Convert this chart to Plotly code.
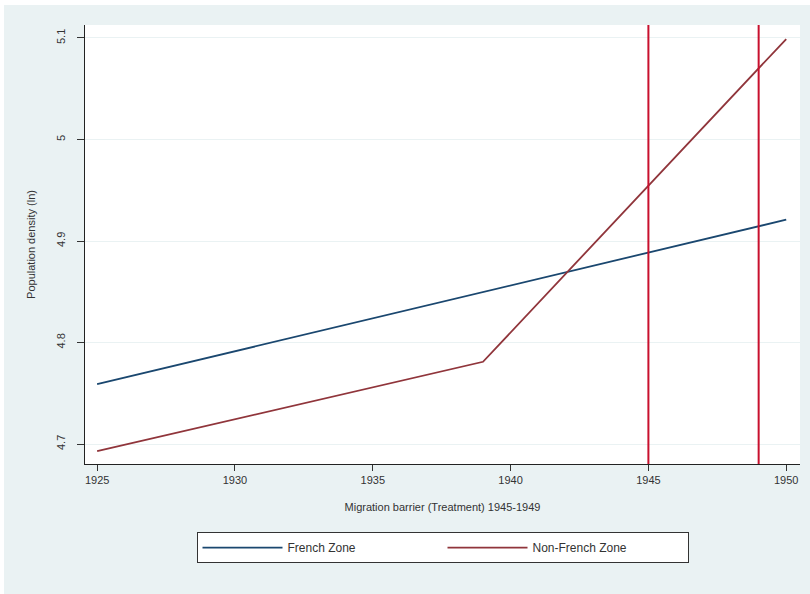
import plotly.graph_objects as go

years = [1925, 1939, 1950]
french = [4.759, 4.850, 4.921]
non_french = [4.693, 4.781, 5.099]
treatment_years = [1945, 1949]
x_ticks = [1925, 1930, 1935, 1940, 1945, 1950]
y_ticks = [4.7, 4.8, 4.9, 5.0, 5.1]
y_ticklabels = ["4.7", "4.8", "4.9", "5", "5.1"]

BG = "#EAF2F3"
FONT = "Liberation Sans, Arial, sans-serif"

fig = go.Figure()
fig.add_trace(go.Scatter(x=years, y=french, mode="lines", name="French Zone",
                         line=dict(color="#1A476F", width=1.8)))
fig.add_trace(go.Scatter(x=years, y=non_french, mode="lines", name="Non-French Zone",
                         line=dict(color="#90353B", width=1.8)))
for t in treatment_years:
    fig.add_vline(x=t, line=dict(color="#C8102E", width=2), layer="above")

fig.update_layout(
    width=806, height=589,
    paper_bgcolor=BG, plot_bgcolor="white",
    margin=dict(l=81, r=10, t=20, b=130),
    font=dict(family=FONT, size=11, color="#333333"),
    showlegend=True,
    legend=dict(orientation="h", x=0.5, xanchor="center", y=-0.155, yanchor="top",
                bgcolor="white", bordercolor="#333333", borderwidth=1,
                entrywidth=150, itemwidth=80, font=dict(size=12, family=FONT)),
    xaxis=dict(range=[1924.56, 1950.5], tickvals=x_ticks, ticks="outside", ticklen=6,
               tickcolor="#333333", showgrid=False, showline=True, linecolor="#222222",
               linewidth=1, zeroline=False,
               title=dict(text="Migration barrier (Treatment) 1945-1949", standoff=18,
                          font=dict(size=11))),
    yaxis=dict(range=[4.6803, 5.1128], tickvals=y_ticks, ticktext=y_ticklabels,
               tickangle=-90, ticks="outside", ticklen=7, tickcolor="#333333",
               ticklabelstandoff=8,
               showgrid=True, gridcolor=BG, gridwidth=1, showline=True,
               linecolor="#222222", linewidth=1, zeroline=False,
               title=dict(text="Population density (ln)", standoff=16,
                          font=dict(size=11))),
)

fig.write_html("out.html",
               post_script="document.body.style.margin='5px 0 0 4px';document.body.style.overflow='hidden';")
